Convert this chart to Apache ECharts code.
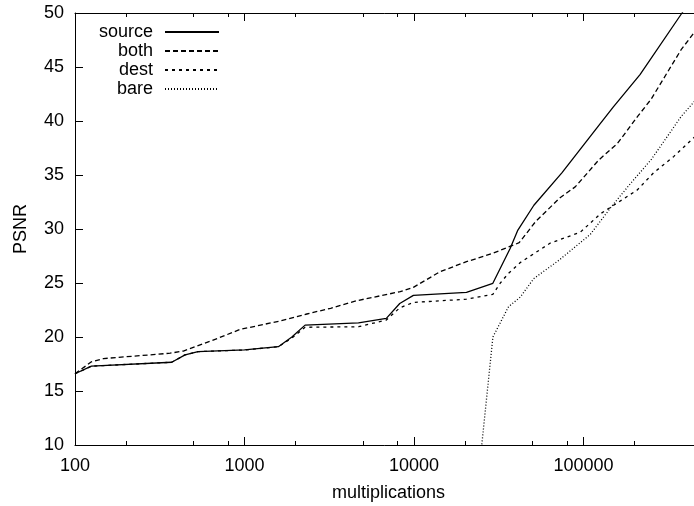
<!DOCTYPE html>
<html>
<head>
<meta charset="utf-8">
<script src="https://cdn.jsdelivr.net/npm/echarts@6/dist/echarts.min.js"></script>
<style>
html,body{margin:0;padding:0;background:#fff;}
#chart{width:694px;height:506px;}
</style>
</head>
<body>
<div id="chart"></div>
<script>
// ---- data ----
const seriesNames = ['source', 'both', 'dest', 'bare'];

const sourceX = [100, 125, 372, 446, 532, 1000, 1584, 1903, 2277, 4703, 6865, 8238, 9916, 20390, 29180, 36900, 41000, 50950, 74500, 123200, 150000, 215400, 381000, 450000];
const sourceY = [16.6, 17.3, 17.66, 18.35, 18.64, 18.8, 19.1, 20.0, 21.1, 21.3, 21.73, 23.1, 23.85, 24.14, 24.97, 28.2, 29.9, 32.2, 35.2, 39.6, 41.3, 44.3, 50.0, 51.7];

const bothX = [100, 125, 147, 364, 436, 641, 942, 1616, 2333, 3223, 4590, 8293, 9916, 14270, 20390, 29180, 41730, 52130, 72700, 89300, 123200, 158200, 208000, 250000, 376500, 450000];
const bothY = [16.6, 17.7, 18.0, 18.5, 18.7, 19.66, 20.7, 21.48, 22.13, 22.66, 23.36, 24.2, 24.6, 26.05, 26.97, 27.75, 28.73, 30.68, 32.9, 33.9, 36.4, 37.9, 40.4, 42.0, 46.6, 48.2];

const destX = [100, 125, 372, 446, 532, 1000, 1584, 1903, 2277, 4703, 6865, 8238, 9916, 20390, 29180, 32300, 36100, 42400, 63700, 95700, 125600, 207000, 259000, 340000, 450000];
const destY = [16.6, 17.3, 17.66, 18.35, 18.64, 18.8, 19.1, 19.9, 20.9, 20.95, 21.57, 22.7, 23.2, 23.5, 23.95, 25.0, 25.9, 26.9, 28.7, 29.7, 31.4, 33.6, 35.2, 36.7, 38.5];

const bareX = [24500, 29200, 36100, 42400, 50800, 71500, 109600, 145000, 189000, 250000, 310000, 376000, 450000];
const bareY = [8.4, 20.0, 22.8, 23.7, 25.4, 27.1, 29.5, 32.0, 34.2, 36.4, 38.5, 40.4, 41.8];

const xMajorTicks = [100, 1000, 10000, 100000];
const xMinorTicks = [200, 500, 800, 2000, 5000, 8000, 20000, 50000, 80000, 200000];
const yTicks = [10, 15, 20, 25, 30, 35, 40, 45, 50];

const xTitle = 'multiplications';
const yTitle = 'PSNR';

// ---- chart ----
const FONT = '"Liberation Sans", Arial, Helvetica, sans-serif';
const BLACK = '#000';
const xMin = 100, xMax = 500000;

function pairs(xs, ys) { return xs.map((x, i) => [x, ys[i]]); }

function xAxisDef(position, ticks, tickLen, showLine, showLabel, withName) {
  const ax = {
    type: 'log', logBase: 10, min: xMin, max: xMax, position: position, gridIndex: 0,
    axisLine: { show: showLine, lineStyle: { color: BLACK, width: 1 } },
    axisTick: { show: true, inside: true, length: tickLen, customValues: ticks, lineStyle: { color: BLACK, width: 1 } },
    axisLabel: { show: showLabel, customValues: ticks, margin: 12, color: BLACK, fontFamily: FONT, fontSize: 18,
      formatter: v => String(Math.round(v)) },
    splitLine: { show: false }, minorTick: { show: false }, minorSplitLine: { show: false }
  };
  if (withName) {
    ax.name = xTitle; ax.nameLocation = 'middle'; ax.nameGap = 39;
    ax.nameTextStyle = { color: BLACK, fontFamily: FONT, fontSize: 18 };
  }
  return ax;
}

function yAxisDef(position, showLabel, withName) {
  const ax = {
    type: 'value', min: yTicks[0], max: yTicks[yTicks.length - 1], interval: 5, position: position,
    axisLine: { show: true, lineStyle: { color: BLACK, width: 1 } },
    axisTick: { show: true, inside: true, length: 8, lineStyle: { color: BLACK, width: 1 } },
    axisLabel: { show: showLabel, margin: 11, color: BLACK, fontFamily: FONT, fontSize: 18 },
    splitLine: { show: false }
  };
  if (withName) {
    ax.name = yTitle; ax.nameLocation = 'middle'; ax.nameGap = 45; ax.nameRotate = 90;
    ax.nameTextStyle = { color: BLACK, fontFamily: FONT, fontSize: 18 };
  }
  return ax;
}

const styles = {
  source: { type: 'solid', z: 5 },
  both:   { type: [5, 3], z: 4 },
  dest:   { type: [3, 4], z: 3 },
  bare:   { type: [1, 2], z: 2 }
};
const dataMap = {
  source: pairs(sourceX, sourceY),
  both: pairs(bothX, bothY),
  dest: pairs(destX, destY),
  bare: pairs(bareX, bareY)
};

const option = {
  animation: false,
  backgroundColor: '#fff',
  grid: { left: 75, width: 627, top: 13, bottom: 61, containLabel: false, outerBoundsMode: 'none' },
  legend: {
    orient: 'vertical', align: 'right', right: 474, top: 23, padding: 0,
    itemGap: 1, itemWidth: 54, itemHeight: 10,
    itemStyle: { opacity: 0 },
    textStyle: { color: BLACK, fontFamily: FONT, fontSize: 18, lineHeight: 18, padding: [0, 7, 0, 0] },
    data: seriesNames
  },
  xAxis: [
    xAxisDef('bottom', xMajorTicks, 8, true, true, true),
    xAxisDef('bottom', xMinorTicks, 4, false, false, false),
    xAxisDef('top', xMajorTicks, 8, true, false, false),
    xAxisDef('top', xMinorTicks, 4, false, false, false)
  ],
  yAxis: [
    yAxisDef('left', true, true),
    yAxisDef('right', false, false)
  ],
  series: seriesNames.map(n => ({
    name: n, type: 'line', xAxisIndex: 0, yAxisIndex: 0,
    data: dataMap[n], symbol: 'none', showSymbol: false, clip: true,
    z: styles[n].z, color: BLACK,
    lineStyle: { color: BLACK, width: 1.3, type: styles[n].type },
    emphasis: { disabled: true }
  }))
};

const chart = echarts.init(document.getElementById('chart'), null, { renderer: 'canvas' });
chart.setOption(option);
</script>
</body>
</html>
